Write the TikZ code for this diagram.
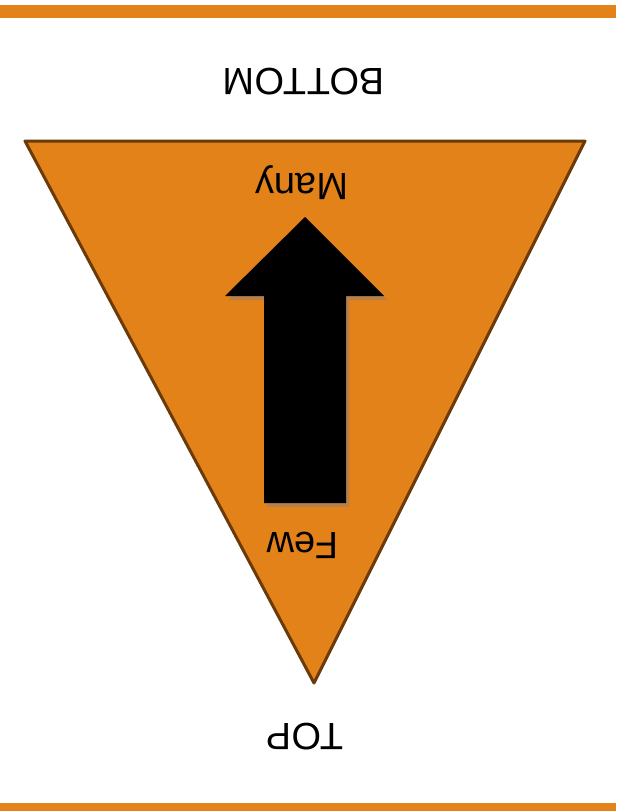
\documentclass[tikz,border=0pt]{standalone}
\usepackage{fontspec}
\setmainfont{Liberation Sans}
\usepackage{xcolor}
\usetikzlibrary{shadows}

\definecolor{funnelorange}{HTML}{E4821A}
\definecolor{funnelbrown}{HTML}{6A3A08}

\begin{document}
\begin{tikzpicture}[x=1pt,y=-1pt,
  lbl/.style={rotate=180,font=\fontsize{38}{40}\selectfont,inner sep=0pt}]
\useasboundingbox (0,0) rectangle (616,811);

% bars
\fill[funnelorange] (0,5) rectangle (616,18);
\fill[funnelorange] (0,803) rectangle (616,811);

% funnel
\coordinate (tl) at (25,141);
\coordinate (tr) at (585,141);
\coordinate (tip) at (314,683);
\draw[line width=3pt,funnelbrown,fill=funnelorange,line join=round] (tl) -- (tr) -- (tip) -- cycle;

% arrow
\fill[black,drop shadow={shadow xshift=3pt,shadow yshift=-4pt,opacity=0.45}]
  (305,217) -- (384,296) -- (346,296) -- (346,503) -- (264,503) -- (264,296) -- (225,296) -- cycle;

\node[lbl] (bottomlbl) at (304,82) {BOTTOM};
\node[lbl] (many) at (302,183) {Many};
\node[lbl] (few) at (303,545) {Few};
\node[lbl] (toplbl) at (305,737) {TOP};
\end{tikzpicture}
\end{document}
